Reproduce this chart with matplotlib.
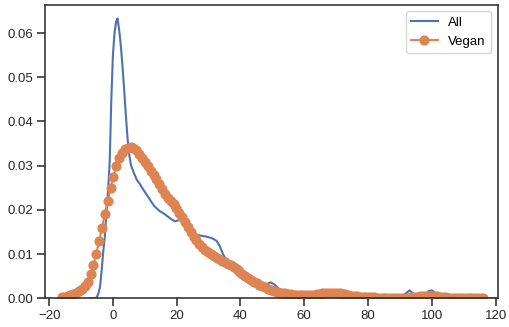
import numpy as np
import matplotlib
matplotlib.use("Agg")
import matplotlib.pyplot as plt

# density curve for all recipes (x, density)
all_x = [-7, -5.5, -5.0, -4.5, -4.0, -3.5, -3.0, -2.5, -2.0, -1.5, -1.0, -0.5,
         0.0, 0.5, 1.0, 1.45, 2.0, 2.5, 3.0, 3.5, 4.0, 4.5, 5.0, 5.7, 6.5, 7.5,
         8.5, 9.6, 11.0, 12.8, 14.5, 15.9, 17.0, 18.5, 19.5, 21.2, 22.5, 24.3,
         26.4, 29.0, 31.0, 32.5, 33.5, 34.5, 35.5, 37.4, 39.0, 41.1, 43.0, 45.3,
         47.0, 48.5, 49.5, 50.5, 52.0, 54.0, 56.0, 60.0, 65.0, 68.0, 72.0, 78.0,
         85.0, 90.0, 91.5, 93.0, 94.5, 96.0, 97.5, 99.0, 100.0, 101.5, 103.0,
         108.0, 115.0, 120.0]
all_y = [0, 0, 0.3, 1.2, 2.8, 6.5, 10.8, 14.2, 19.8, 24.5, 31.0, 45.0,
         55.0, 60.0, 62.5, 63.3, 60.5, 57.0, 52.5, 47.5, 42.0, 37.0, 33.0, 30.0,
         28.5, 26.8, 25.8, 24.5, 23.0, 21.0, 19.8, 19.2, 18.6, 17.8, 17.4, 17.8,
         16.8, 15.4, 14.3, 14.0, 13.6, 13.0, 11.8, 10.0, 8.8, 6.6, 5.3, 4.1, 3.4,
         2.9, 2.9, 3.3, 3.6, 3.2, 2.2, 1.4, 0.9, 0.6, 0.7, 0.9, 0.6, 0.3, 0.1,
         0.2, 0.9, 1.8, 0.9, 0.4, 0.7, 1.6, 1.8, 1.0, 0.4, 0.1, 0.05, 0]

# density curve for vegan recipes, evaluated on a grid from -16 to 116
vegan_range = (-16, 116)
vegan_y = [0.2, 0.35, 0.55, 0.75, 0.9, 1.2, 1.55, 2.1, 2.75, 3.7,
           5.4, 7.5, 10.1, 12.9, 16.0, 19.0, 21.9, 25.0, 27.5, 29.9,
           31.8, 32.9, 33.7, 34.1, 34.3, 34.0, 33.5, 32.6, 31.8, 30.8,
           29.9, 28.9, 27.9, 26.9, 25.9, 24.8, 23.7, 22.7, 22.0, 21.3,
           20.5, 19.4, 18.3, 17.2, 16.1, 15.0, 13.9, 13.1, 12.3, 11.6,
           11.0, 10.5, 10.0, 9.5, 9.1, 8.8, 8.5, 8.1, 7.8, 7.5,
           7.0, 6.6, 6.1, 5.6, 5.1, 4.6, 4.1, 3.7, 3.4, 3.1,
           2.8, 2.5, 2.2, 1.9, 1.7, 1.45, 1.3, 1.2, 1.1, 1.0,
           0.9, 0.85, 0.8, 0.75, 0.7, 0.7, 0.75, 0.8, 0.85, 0.9,
           1.0, 1.1, 1.2, 1.3, 1.3, 1.2, 1.15, 1.1, 1.0, 0.9,
           0.75, 0.6, 0.5, 0.45, 0.4, 0.35, 0.3, 0.25, 0.2, 0.2,
           0.15, 0.15, 0.1, 0.1, 0.1, 0.1, 0.1, 0.1, 0.1, 0.1,
           0.1, 0.15, 0.2, 0.25, 0.35, 0.45, 0.5, 0.5, 0.5, 0.5,
           0.5, 0.45, 0.4, 0.3, 0.2, 0.15, 0.1, 0.1, 0.1, 0.1,
           0.1, 0.1, 0.1, 0.1, 0.1, 0.1, 0.1, 0.05]

plt.rcParams['font.family'] = ['Liberation Sans', 'DejaVu Sans']
plt.rcParams['axes.edgecolor'] = '.15'
plt.rcParams['axes.linewidth'] = 1.1
plt.rcParams['xtick.color'] = '.15'
plt.rcParams['ytick.color'] = '.15'

fig = plt.figure(figsize=(5.1, 3.27), dpi=100)
ax = fig.add_axes([0.0882, 0.0878, 0.8873, 0.8978])

ax.plot(all_x, np.array(all_y) / 1000, color='#4C72B0', lw=1.5, label='All')
vx = np.linspace(vegan_range[0], vegan_range[1], len(vegan_y))
ax.plot(vx, np.array(vegan_y) / 1000, color='#DD8452', lw=1.5,
        marker='o', ms=6.3, label='Vegan')

ax.set_xlim(-21.3, 120.6)
ax.set_ylim(0, 0.0664)
ax.set_xticks([-20, 0, 20, 40, 60, 80, 100, 120])
ax.set_yticks([0, 0.01, 0.02, 0.03, 0.04, 0.05, 0.06])
ax.tick_params(labelsize=9.5, length=5.5, width=1.1, pad=3)
ax.legend(loc='upper right', fontsize=9.5, edgecolor='0.8')

fig.savefig('out.png', dpi=100)
